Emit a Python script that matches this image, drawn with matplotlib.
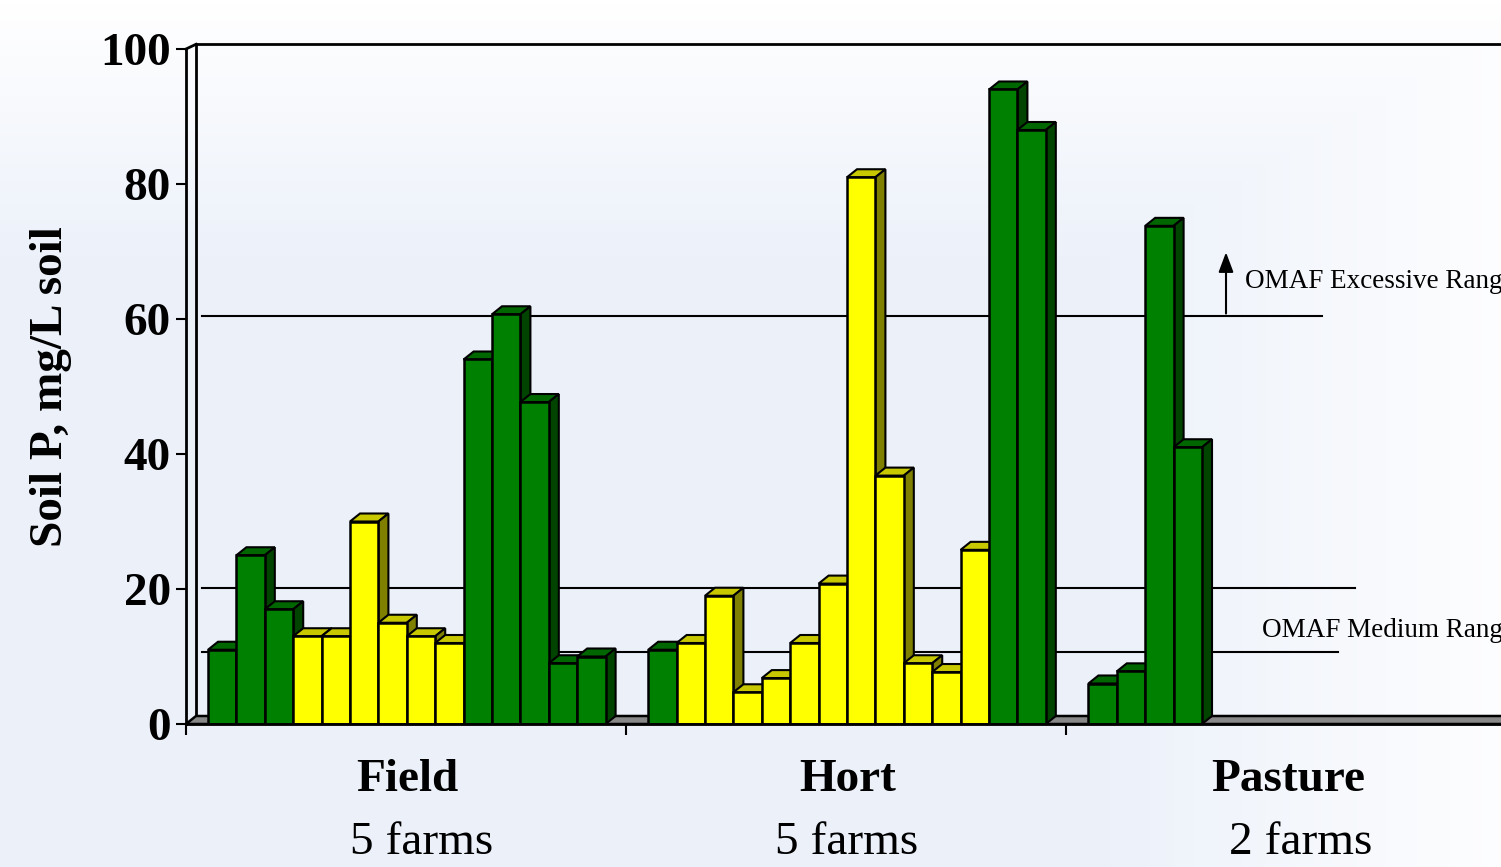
import numpy as np
import matplotlib
matplotlib.use("Agg")
import matplotlib.pyplot as plt
from matplotlib.patches import Polygon

# ---- data ----
categories = ["Field", "Hort", "Pasture"]
farm_labels = ["5 farms", "5 farms", "2 farms"]
field_vals = [11, 25, 17, 13, 13, 30, 15, 13, 12, 54, 60.7, 47.7, 9, 10]
field_kind = ["g", "g", "g", "y", "y", "y", "y", "y", "y", "g", "g", "g", "g", "g"]
hort_vals = [11, 12, 19, 4.7, 6.8, 12, 20.8, 81, 36.8, 9, 7.7, 25.8, 94, 88]
hort_kind = ["g", "y", "y", "y", "y", "y", "y", "y", "y", "y", "y", "y", "g", "g"]
pasture_vals = [6, 7.8, 73.8, 41]
pasture_kind = ["g", "g", "g", "g"]
yticks = [0, 20, 40, 60, 80, 100]
ref_lines = [60.4, 20.15, 10.7]          # OMAF range boundaries
ref_line_ends = [40.0, 41.15, 40.55]
excess_label = "OMAF Excessive Range"
medium_label = "OMAF Medium Range"

W, H = 1501, 867
fig = plt.figure(figsize=(W / 100, H / 100), dpi=100)

# background gradient
bg = fig.add_axes([0, 0, 1, 1], zorder=-10)
yy, xx = np.mgrid[0:H:4, 0:W:4]
top = np.clip(1 - yy / 260.0, 0, 1)
right = np.clip((xx - 1100) / 400.0, 0, 1) * 0.9
w = np.maximum(top, right)
blue = np.array([0.925, 0.945, 0.98])
img = blue[None, None, :] + (1 - blue)[None, None, :] * w[..., None]
bg.imshow(img, extent=[0, W, H, 0], aspect="auto")
bg.axis("off")

serif = ["Liberation Serif", "DejaVu Serif"]

ax_left, ax_right, ax_bot, ax_top = 186, 1501, 724, 49
ax = fig.add_axes([ax_left / W, (H - ax_bot) / H, (ax_right - ax_left) / W, (ax_bot - ax_top) / H])
ax.patch.set_alpha(0)
px_per_unit = 28.4
xmax = (ax_right - ax_left) / px_per_unit
ax.set_xlim(0, xmax)
ax.set_ylim(0, 100)

dx = 10 / px_per_unit
dy = 8 / 6.75
cat_w = 15.5
offset = 0.775

colors = {"g": ("#008000", "#006600", "#004400"),
          "y": ("#ffff00", "#c8c800", "#808000")}

# floor
floor = Polygon([(0, 0), (xmax + 1, 0), (xmax + 1 + dx, dy), (dx, dy)],
                closed=True, facecolor="#888888", edgecolor="black", lw=1.8, zorder=2, clip_on=False)
ax.add_patch(floor)

# back wall lines
wall_top = 100.7
ax.plot([dx, dx], [dy, wall_top], color="black", lw=2, zorder=1, clip_on=False)
ax.plot([dx, xmax + 1], [wall_top, wall_top], color="black", lw=2, zorder=1, clip_on=False)
ax.plot([0, dx], [100, wall_top], color="black", lw=2, zorder=1, clip_on=False)

# reference lines
for v, e in zip(ref_lines, ref_line_ends):
    ax.plot([0.56, e], [v, v], color="black", lw=1.5, zorder=1.5)

# bars
z = 3
groups = [(field_vals, field_kind), (hort_vals, hort_kind), (pasture_vals, pasture_kind)]
for gi, (vals, kinds) in enumerate(groups):
    for k, (v, kd) in enumerate(zip(vals, kinds)):
        x0 = gi * cat_w + offset + k
        front, topc, side = colors[kd]
        tp = Polygon([(x0, v), (x0 + 1, v), (x0 + 1 + dx, v + dy), (x0 + dx, v + dy)],
                     closed=True, facecolor=topc, edgecolor="black", lw=1.5, zorder=z)
        sp = Polygon([(x0 + 1, 0), (x0 + 1 + dx, dy), (x0 + 1 + dx, v + dy), (x0 + 1, v)],
                     closed=True, facecolor=side, edgecolor="black", lw=1.5, zorder=z)
        ax.add_patch(tp)
        ax.add_patch(sp)
        ax.bar(x0, v, width=1, align="edge", color=front, edgecolor="black", lw=1.8, zorder=z + 0.5)
        z += 1

# axes styling
for s in ["top", "right"]:
    ax.spines[s].set_visible(False)
ax.spines["left"].set_linewidth(2)
ax.spines["bottom"].set_linewidth(2)
ax.spines["left"].set_zorder(200)
ax.spines["bottom"].set_zorder(200)
ax.set_yticks(yticks)
ax.set_yticklabels([str(t) for t in yticks], fontfamily=serif, fontweight="bold", fontsize=34)
ax.tick_params(axis="y", length=7, width=1.5, pad=4)
ax.set_xticks([0, cat_w, 2 * cat_w])
ax.set_xticklabels([])
ax.tick_params(axis="x", length=8, width=1.5)

ax.set_ylabel("Soil P, mg/L soil", fontfamily=serif, fontweight="bold", fontsize=34, labelpad=20)

# category labels
farm_dx = [0.55, 0.0, 0.5]
for i, (c, f) in enumerate(zip(categories, farm_labels)):
    xc = i * cat_w + cat_w / 2
    ax.text(xc + 0.05, -7.5 - 0.75, c, ha="center", va="center", fontfamily=serif, fontweight="bold", fontsize=34)
    ax.text(xc + farm_dx[i], -16.8 - 0.75, f, ha="center", va="center", fontfamily=serif, fontsize=34)

# annotations
ax.annotate("", xy=(36.62, 70.3), xytext=(36.62, ref_lines[0]),
            arrowprops=dict(arrowstyle="-|>,head_length=1.2,head_width=0.45", color="black", lw=1.5),
            zorder=2)
ax.text(37.3, 65.6, excess_label, ha="left", va="center", fontfamily=serif, fontsize=19.5, clip_on=False)
ax.text(37.9, 13.8, medium_label, ha="left", va="center", fontfamily=serif, fontsize=19.5, clip_on=False)

fig.savefig("out.png", dpi=100)
